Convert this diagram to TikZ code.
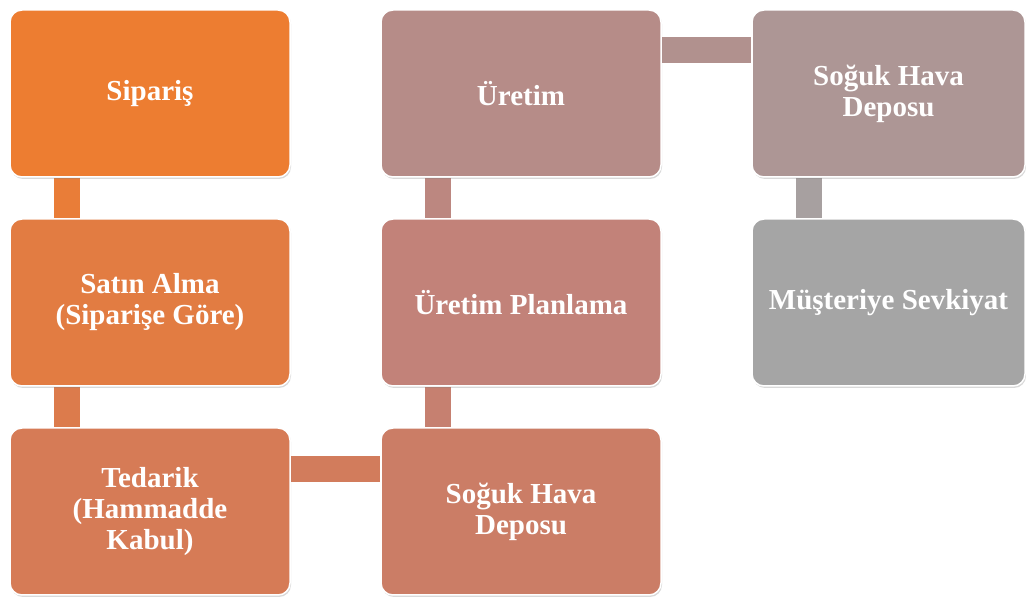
\documentclass[tikz,border=0pt]{standalone}
\usepackage{fontspec}
\setmainfont{Liberation Serif}
\usetikzlibrary{positioning,shadows,backgrounds}

\definecolor{stepa}{HTML}{ED7D31}
\definecolor{stepb}{HTML}{E27C42}
\definecolor{stepc}{HTML}{D67B56}
\definecolor{stepd}{HTML}{CB7D66}
\definecolor{stepe}{HTML}{C28279}
\definecolor{stepf}{HTML}{B68C88}
\definecolor{stepg}{HTML}{AD9695}
\definecolor{steph}{HTML}{A5A5A5}

\begin{document}
\begin{tikzpicture}[x=1pt,y=1pt,
    box/.style={rectangle,rounded corners=12pt,draw=white,line width=1.5pt,
        minimum width=280pt,minimum height=167pt,text=white,align=center,
        font=\fontsize{29}{31}\selectfont\bfseries,
        drop shadow={shadow xshift=1pt,shadow yshift=-2pt,opacity=0.3}},
    link/.style={line width=26pt}]
    \useasboundingbox (0,0) rectangle (1026,597);
    % first column
    \node[box,fill=stepa] (siparis) at (150,503.5) {Sipariş};
    \node[box,fill=stepb,below=40.5pt of siparis] (satin) {Satın Alma\\(Siparişe Göre)};
    \node[box,fill=stepc,below=40.5pt of satin] (tedarik) {Tedarik\\(Hammadde\\Kabul)};
    % second column
    \node[box,fill=stepd,right=89.5pt of tedarik] (depoa) {Soğuk Hava\\Deposu};
    \node[box,fill=stepe,above=40.5pt of depoa] (plan) {Üretim Planlama};
    \node[box,fill=stepf,above=40.5pt of plan] (uretim) {Üretim};
    % third column
    \node[box,fill=stepg,minimum width=273pt,right=89.5pt of uretim] (depob) {Soğuk Hava\\Deposu};
    \node[box,fill=steph,minimum width=273pt,below=40.5pt of depob] (sevk) {Müşteriye Sevkiyat};
    \begin{pgfonlayer}{background}
        \draw[link,color=stepa!60!stepb] ([xshift=-83pt]siparis.south) -- ([xshift=-83pt]satin.north);
        \draw[link,color=stepb!50!stepc] ([xshift=-83pt]satin.south) -- ([xshift=-83pt]tedarik.north);
        \draw[link,color=stepc!60!stepd] ([yshift=42pt]tedarik.east) -- ([yshift=42pt]depoa.west);
        \draw[link,color=stepd!50!stepe] ([xshift=-83pt]depoa.north) -- ([xshift=-83pt]plan.south);
        \draw[link,color=stepe!50!stepf] ([xshift=-83pt]plan.north) -- ([xshift=-83pt]uretim.south);
        \draw[link,color=stepf!50!stepg] ([yshift=43pt]uretim.east) -- ([yshift=43pt]depob.west);
        \draw[link,color=stepg!30!steph] ([xshift=-79.5pt]depob.south) -- ([xshift=-79.5pt]sevk.north);
    \end{pgfonlayer}
\end{tikzpicture}
\end{document}
